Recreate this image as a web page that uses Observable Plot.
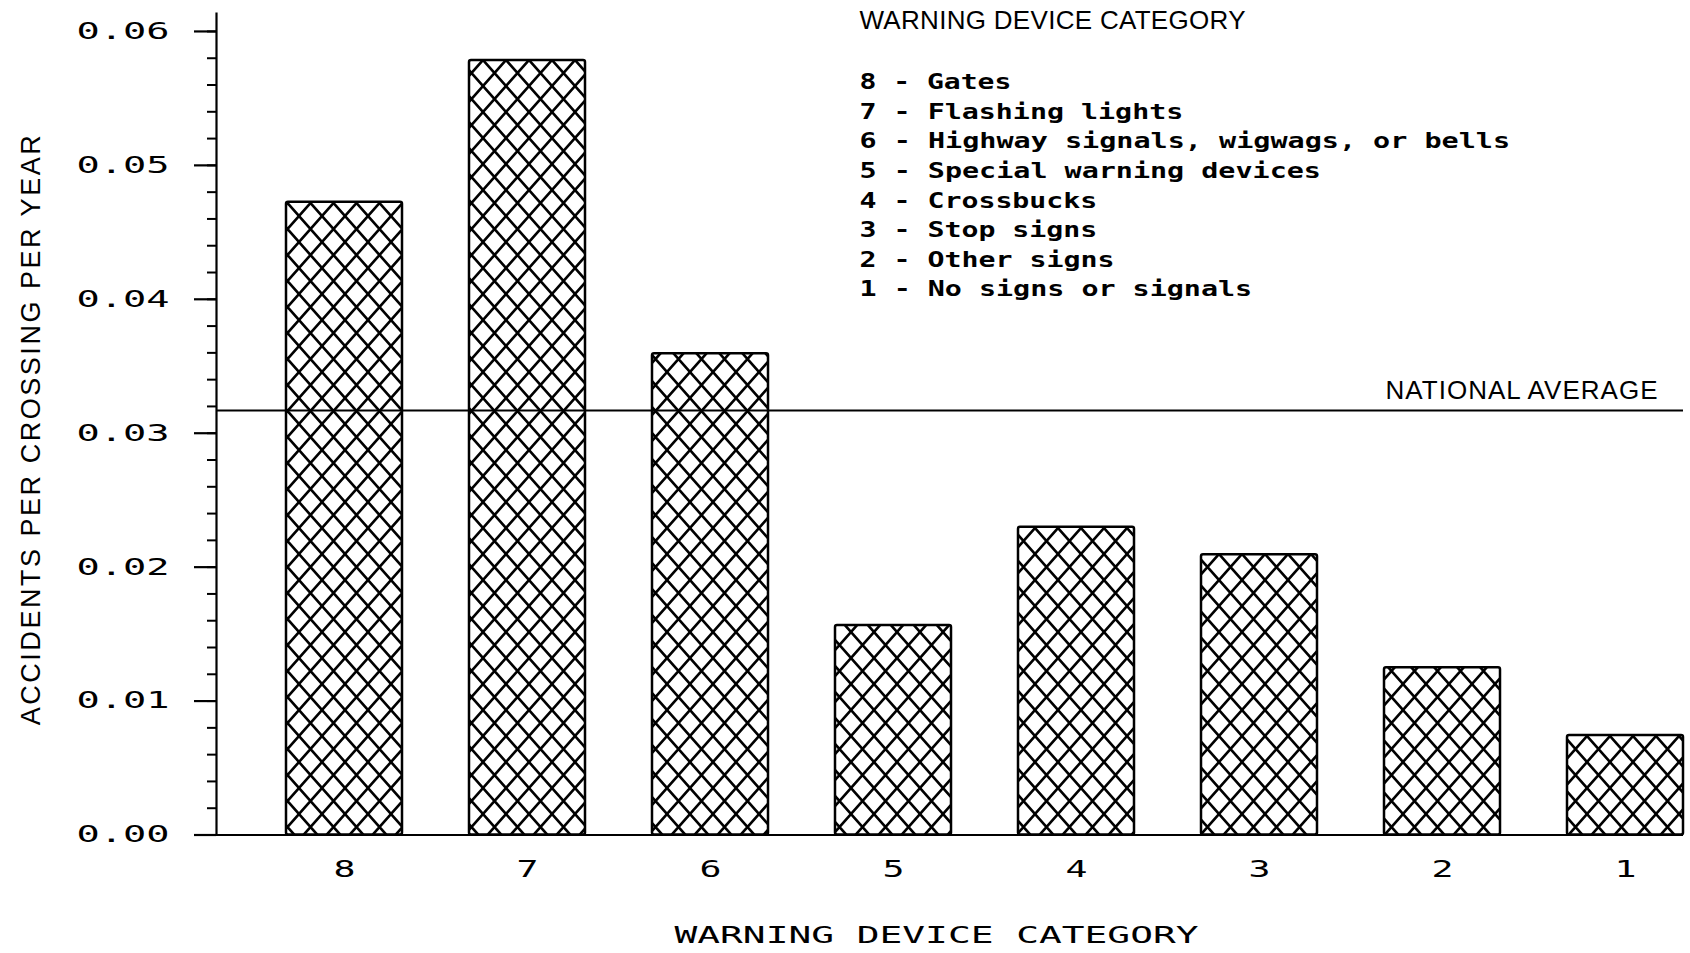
<!DOCTYPE html>
<html><head><meta charset="utf-8">
<script src="https://cdn.jsdelivr.net/npm/d3@7"></script>
<script src="https://cdn.jsdelivr.net/npm/@observablehq/plot@0.6"></script>
<style>body{margin:0;background:#fff;} #chart svg{display:block}</style>
</head><body><div id="chart"></div>
<script>
// ---- data ----
const categories = ["8", "7", "6", "5", "4", "3", "2", "1"];
const rates = [0.04725, 0.05783, 0.03593, 0.01564, 0.02298, 0.02092, 0.01249, 0.00743];
const nationalAverage = 0.0317;
const yTicks = [0, 0.01, 0.02, 0.03, 0.04, 0.05, 0.06];
const yMinorTicks = d3.range(31).map(i => +(i * 0.002).toFixed(3));
const legendTitle = "WARNING DEVICE CATEGORY";
const legendLines = [
  "8 - Gates",
  "7 - Flashing lights",
  "6 - Highway signals, wigwags, or bells",
  "5 - Special warning devices",
  "4 - Crossbucks",
  "3 - Stop signs",
  "2 - Other signs",
  "1 - No signs or signals"
];
const xTitle = "WARNING DEVICE CATEGORY";
const yTitle = "ACCIDENTS PER CROSSING PER YEAR";
const avgLabel = "NATIONAL AVERAGE";

const data = categories.map((c, i) => ({category: c, rate: rates[i]}));

const MONO = "DejaVu Sans Mono";
const LEG = "DejaVu Sans Mono";
const SANS = "Liberation Sans";
const legendRowStep = 29.6;

const svg = Plot.plot({
  width: 1690,
  height: 953,
  marginLeft: 216,
  marginRight: 7,
  marginTop: 13,
  marginBottom: 118.5,
  style: {background: "#fff", color: "#000", overflow: "visible"},
  x: {domain: categories, paddingInner: 0.368, paddingOuter: 0.1813, align: 1},
  y: {domain: [0, 0.06134]},
  marks: [
    Plot.barY(data, {x: "category", y: "rate", fill: "url(#crosshatch)", stroke: "#000", strokeWidth: 2.5, rx: 2}),
    Plot.ruleY([nationalAverage], {stroke: "#000", strokeWidth: 2}),
    Plot.ruleY([0], {stroke: "#000", strokeWidth: 2.2}),
    Plot.frame({anchor: "left", stroke: "#000", strokeWidth: 2.2}),
    Plot.axisY(yMinorTicks, {tickSize: 9, tickFormat: () => "", strokeWidth: 2, label: null}),
    Plot.axisY(yTicks, {tickSize: 22, tickPadding: 25, tickFormat: d3.format(".2f"), fontSize: 23, fontFamily: MONO, strokeWidth: 2.2, label: null}),
    Plot.axisX({tickSize: 0, tickPadding: 25.5, fontSize: 23, fontFamily: MONO, label: null}),
    Plot.text([xTitle], {text: d => d, frameAnchor: "bottom", lineAnchor: "middle", dx: -13.5, dy: 100.5, fontSize: 23, fontFamily: MONO}),
    Plot.text([yTitle], {text: d => d, frameAnchor: "left", rotate: -90, textAnchor: "start", lineAnchor: "middle", dx: -185.5, dy: 301, fontSize: 27, fontFamily: SANS}),
    Plot.text([legendTitle], {text: d => d, frameAnchor: "top-left", textAnchor: "start", lineAnchor: "middle", dx: 643, dy: 7, fontSize: 26, fontFamily: SANS}),
    ...legendLines.map((line, i) =>
      Plot.text([line], {text: d => d, frameAnchor: "top-left", textAnchor: "start", lineAnchor: "top", dx: 643, dy: 60 + i * legendRowStep, fontSize: 22, fontFamily: LEG, fontWeight: "bold"})
    ),
    Plot.text([nationalAverage], {y: d => d, text: () => avgLabel, frameAnchor: "right", textAnchor: "end", lineAnchor: "middle", dx: -26, dy: -20, fontSize: 26, fontFamily: SANS})
  ]
});

// hatch pattern
const defs = d3.select(svg).insert("defs", ":first-child");
const W = 23, H = 26;
const pat = defs.append("pattern").attr("id", "crosshatch").attr("patternUnits", "userSpaceOnUse")
  .attr("width", W).attr("height", H).attr("x", 0).attr("y", 8);
pat.append("rect").attr("width", W).attr("height", H).attr("fill", "#fff");
pat.append("path")
  .attr("d", `M${-W},${-H}L${2*W},${2*H}M${2*W},${-H}L${-W},${2*H}`)
  .attr("stroke", "#000").attr("stroke-width", 2.6).attr("fill", "none");

// text fitting to the plotter lettering widths
const legendSet = new Set(legendLines);
d3.select(svg).selectAll("text").each(function () {
  const t = this.textContent;
  const fam = (this.closest("[font-family]") || this).getAttribute("font-family") || "";
  const el = d3.select(this);
  if (/^0\.0\d$/.test(t)) {
    el.attr("textLength", 93).attr("lengthAdjust", "spacingAndGlyphs");
  } else if (/^[1-8]$/.test(t)) {
    el.attr("textLength", 22).attr("lengthAdjust", "spacingAndGlyphs");
  } else if (t === xTitle && fam.includes("DejaVu")) {
    el.attr("textLength", 524).attr("lengthAdjust", "spacingAndGlyphs");
  } else if (t === legendTitle && fam.includes("Liberation Sans")) {
    el.attr("textLength", 386).attr("lengthAdjust", "spacing");
  } else if (t === yTitle) {
    el.attr("textLength", 590).attr("lengthAdjust", "spacing");
  } else if (t === avgLabel) {
    el.attr("textLength", 272).attr("lengthAdjust", "spacing");
  } else if (legendSet.has(t)) {
    el.attr("textLength", t.length * 17.2 - 3).attr("lengthAdjust", "spacingAndGlyphs");
  }
});

document.getElementById("chart").appendChild(svg);
</script>
</body></html>
